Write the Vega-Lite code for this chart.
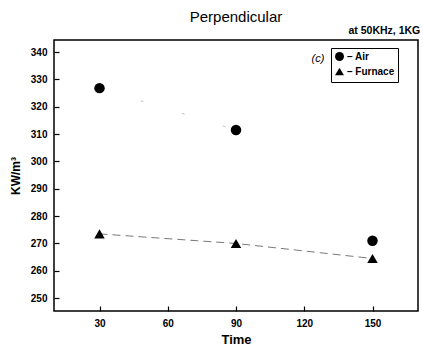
{
  "$schema": "https://vega.github.io/schema/vega-lite/v6.json",
  "width": 364,
  "height": 271,
  "autosize": {"type": "none"},
  "padding": {"left": 54, "top": 40, "right": 5, "bottom": 38},
  "background": "white",
  "config": {
    "font": "Liberation Sans",
    "view": {"stroke": "black", "strokeWidth": 1.5},
    "axis": {"grid": false, "domain": false, "ticks": true, "tickColor": "black", "tickWidth": 1.2, "labelColor": "black", "titleColor": "black", "labelFont": "Liberation Sans", "labelFontWeight": "bold", "labelFontSize": 10, "labelOverlap": false, "titleFont": "Liberation Sans", "titleFontWeight": "bold"}
  },
  "title": {"text": "Perpendicular", "fontSize": 15, "fontWeight": "normal", "font": "Liberation Sans", "color": "black", "anchor": "middle", "offset": 1},
  "datasets": {
    "pts": [
      {"time": 30, "value": 326.8, "series": "Air"},
      {"time": 90, "value": 311.5, "series": "Air"},
      {"time": 150, "value": 271, "series": "Air"},
      {"time": 30, "value": 273.5, "series": "Furnace"},
      {"time": 90, "value": 270, "series": "Furnace"},
      {"time": 150, "value": 264.5, "series": "Furnace"}
    ],
    "notes": [
      {"time": 126, "value": 337.5, "label": "(c)", "kind": "c"},
      {"time": 171, "value": 347.8, "label": "at 50KHz, 1KG", "kind": "sub"}
    ]
  },
  "encoding": {
    "x": {"field": "time", "type": "quantitative", "title": "Time",
      "scale": {"domain": [10, 170], "nice": false, "zero": false},
      "axis": {"values": [30, 60, 90, 120, 150], "ticks": true, "tickSize": 5, "offset": -5, "labelOverlap": false, "labelPadding": 7, "titleFontSize": 13, "titlePadding": 5}},
    "y": {"field": "value", "type": "quantitative", "title": "KW/m³",
      "scale": {"domain": [245.3, 344.4], "nice": false, "zero": false},
      "axis": {"values": [250, 260, 270, 280, 290, 300, 310, 320, 330, 340], "ticks": true, "tickSize": 5, "offset": -5, "labelOverlap": false, "labelFlush": false, "labelPadding": 7, "titleFontSize": 12, "titlePadding": 8}}
  },
  "layer": [
    {
      "data": {"name": "pts"},
      "transform": [{"filter": "datum.series === 'Furnace'"}],
      "mark": {"type": "line", "stroke": "#555", "strokeWidth": 0.8, "strokeDash": [8, 5]}
    },
    {
      "data": {"name": "pts"},
      "transform": [{"filter": "datum.series === 'Air' && datum.time <= 90"}],
      "mark": {"type": "line", "stroke": "#999", "strokeWidth": 0.6, "strokeDash": [3, 40]}
    },
    {
      "data": {"name": "pts"},
      "mark": {"type": "point", "filled": true, "color": "black", "opacity": 1, "size": 110},
      "encoding": {
        "shape": {"field": "series", "type": "nominal",
          "scale": {"domain": ["Air", "Furnace"], "range": ["circle", "triangle-up"]},
          "legend": {"title": null, "orient": "none", "legendX": 277, "legendY": 8, "strokeColor": "black", "padding": 3, "fillColor": "white", "labelFont": "Liberation Sans", "labelFontWeight": "bold", "labelFontSize": 10, "labelColor": "black", "labelExpr": "'– ' + datum.label", "symbolFillColor": "black", "symbolStrokeColor": "black", "symbolSize": 80, "rowPadding": 0, "labelOffset": 2}}
      }
    },
    {
      "data": {"name": "notes"},
      "transform": [{"filter": "datum.kind === 'c'"}],
      "mark": {"type": "text", "font": "Liberation Sans", "fontStyle": "italic", "fontSize": 11, "align": "center", "baseline": "middle", "color": "black"},
      "encoding": {
        "text": {"field": "label"}
      }
    },
    {
      "data": {"name": "notes"},
      "transform": [{"filter": "datum.kind === 'sub'"}],
      "mark": {"type": "text", "font": "Liberation Sans", "fontWeight": "bold", "fontSize": 10.5, "align": "right", "baseline": "middle", "color": "black", "clip": false},
      "encoding": {
        "text": {"field": "label"}
      }
    }
  ]
}
